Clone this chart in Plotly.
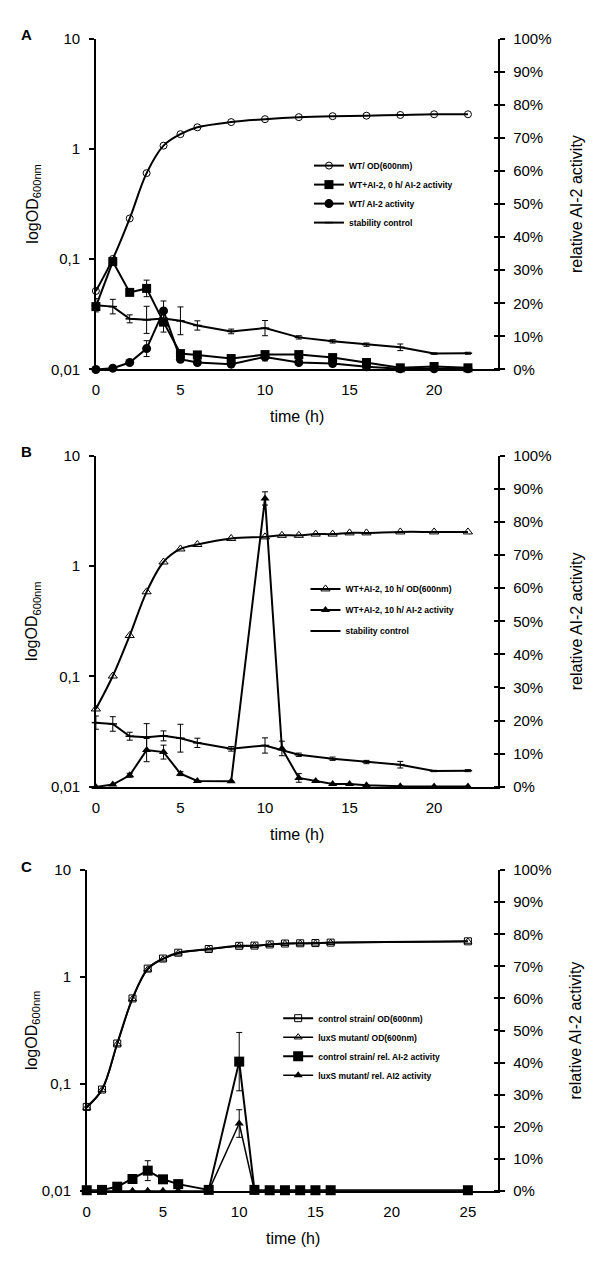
import plotly.graph_objects as go

# ---------------- data ----------------
# Panel A
time_a = [0, 1, 2, 3, 4, 5, 6, 8, 10, 12, 14, 16, 18, 20, 22]
wt_od_a = [0.0515, 0.1005, 0.234, 0.603, 1.07, 1.36, 1.57, 1.75, 1.86, 1.94, 1.98, 2.00, 2.03, 2.06, 2.06]
wt_ai2_0h_act = [19.0, 32.6, 23.3, 24.5, 14.3, 4.8, 4.4, 3.3, 4.5, 4.5, 3.6, 2.1, 0.5, 0.9, 0.5]
wt_ai2_0h_err = [0, 0, 0, 2.5, 3.0, 0, 0, 0, 0, 0, 0, 0, 0, 0, 0]
wt_act = [0.0, 0.4, 2.1, 6.3, 17.7, 3.1, 2.1, 1.6, 3.8, 2.1, 1.8, 0.8, 0.2, 0.2, 0.2]
wt_act_err = [0, 0, 0, 2.4, 3.0, 0, 0, 0, 1.2, 0, 0, 0, 0, 0, 0]
stab_time = [0, 1, 2, 3, 4, 5, 6, 8, 10, 12, 14, 16, 18, 20, 22]
stab_act = [19.4, 19.0, 15.3, 15.0, 15.4, 14.7, 13.3, 11.5, 12.5, 9.7, 8.5, 7.5, 6.7, 4.8, 4.9]
stab_err = [2.0, 2.2, 1.2, 4.1, 1.5, 4.2, 1.4, 0.7, 2.3, 0.5, 0.5, 0.5, 1.0, 0.2, 0.3]

# Panel B
time_b = [0, 1, 2, 3, 4, 5, 6, 8, 10, 11, 12, 13, 14, 15, 16, 18, 20, 22]
wt10_od = [0.0508, 0.101, 0.235, 0.585, 1.09, 1.43, 1.57, 1.78, 1.84, 1.90, 1.90, 1.95, 1.95, 2.00, 2.00, 2.04, 2.04, 2.04]
wt10_act = [0.0, 0.7, 3.5, 11.1, 10.5, 4.0, 1.8, 1.7, 87.1, 11.6, 2.7, 1.8, 0.9, 0.9, 0.5, 0.2, 0.1, 0.1]
wt10_err = [0, 0, 0.6, 3.5, 2.1, 0.6, 0, 0, 2.0, 2.2, 1.3, 0, 0, 0, 0, 0, 0, 0]

# Panel C
time_c = [0, 1, 2, 3, 4, 5, 6, 8, 10, 11, 12, 13, 14, 15, 16, 25]
ctrl_od = [0.061, 0.0887, 0.239, 0.631, 1.20, 1.49, 1.69, 1.83, 1.96, 1.97, 2.02, 2.06, 2.07, 2.08, 2.10, 2.16]
luxs_od = [0.060, 0.088, 0.236, 0.625, 1.18, 1.47, 1.67, 1.82, 1.95, 1.96, 2.01, 2.05, 2.06, 2.07, 2.09, 2.15]
ctrl_act = [0.2, 0.3, 1.3, 3.7, 6.3, 3.6, 2.1, 0.3, 40.3, 0.3, 0.2, 0.2, 0.2, 0.2, 0.2, 0.2]
ctrl_err = [0, 0, 0, 0, 3.1, 0, 0, 0, 9.1, 0, 0, 0, 0, 0, 0, 0]
luxs_act = [0, 0, 0, 0, 0, 0, 0, 0, 21.0, 0, 0, 0, 0, 0, 0, 0]
luxs_err = [0, 0, 0, 0, 0, 0, 0, 0, 4.3, 0, 0, 0, 0, 0, 0, 0]

log_tickvals = [0.01, 0.1, 1, 10]
log_ticktext = ["0,01", "0,1", "1", "10"]
pct_tickvals = list(range(0, 101, 10))
pct_ticktext = [f"{v}%" for v in pct_tickvals]

# ---------------- figure ----------------
W, H = 600, 1286
FONT = "Liberation Sans, Arial, sans-serif"
BLACK = "black"


def px(x):
    return x / W


def py(y):
    return 1 - y / H


fig = go.Figure()


def err(arr):
    return dict(type="data", array=arr, visible=True, color=BLACK, thickness=1, width=3)


LW = 2

# Panel A traces
fig.add_trace(go.Scatter(x=time_a, y=wt_od_a, xaxis="x", yaxis="y", name="WT/ OD(600nm)",
                         mode="lines+markers", line=dict(color=BLACK, width=LW, shape="spline"),
                         marker=dict(symbol="circle-open", size=7, color=BLACK, line=dict(width=1)),
                         legend="legend", cliponaxis=False))
fig.add_trace(go.Scatter(x=time_a, y=wt_ai2_0h_act, xaxis="x", yaxis="y2", name="WT+AI-2, 0 h/ AI-2 activity",
                         mode="lines+markers", line=dict(color=BLACK, width=LW),
                         marker=dict(symbol="square", size=9, color=BLACK),
                         error_y=err(wt_ai2_0h_err), legend="legend", cliponaxis=False))
fig.add_trace(go.Scatter(x=time_a, y=wt_act, xaxis="x", yaxis="y2", name="WT/ AI-2 activity",
                         mode="lines+markers", line=dict(color=BLACK, width=LW),
                         marker=dict(symbol="circle", size=9, color=BLACK),
                         error_y=err(wt_act_err), legend="legend", cliponaxis=False))
fig.add_trace(go.Scatter(x=stab_time, y=stab_act, xaxis="x", yaxis="y2", name="stability control",
                         mode="lines+markers", line=dict(color=BLACK, width=LW),
                         marker=dict(symbol="line-ew", size=6, color=BLACK, line=dict(width=1.5, color=BLACK)),
                         error_y=err(stab_err), legend="legend", cliponaxis=False))

# Panel B traces
fig.add_trace(go.Scatter(x=time_b, y=wt10_od, xaxis="x2", yaxis="y3", name="WT+AI-2, 10 h/ OD(600nm)",
                         mode="lines+markers", line=dict(color=BLACK, width=LW, shape="spline"),
                         marker=dict(symbol="triangle-up-open", size=8, color=BLACK, line=dict(width=1)),
                         legend="legend2", legendgroup="b1", cliponaxis=False))
fig.add_trace(go.Scatter(x=time_b, y=wt10_act, xaxis="x2", yaxis="y4", name="WT+AI-2, 10 h/ AI-2 activity",
                         mode="lines+markers", line=dict(color=BLACK, width=LW),
                         marker=dict(symbol="triangle-up", size=8, color=BLACK),
                         error_y=err(wt10_err), legend="legend2", legendgroup="b2", cliponaxis=False))
fig.add_trace(go.Scatter(x=stab_time, y=stab_act, xaxis="x2", yaxis="y4", name="stability control",
                         mode="lines+markers", line=dict(color=BLACK, width=LW),
                         marker=dict(symbol="line-ew", size=6, color=BLACK, line=dict(width=1.5, color=BLACK)),
                         error_y=err(stab_err), legend="legend2", legendgroup="b3", cliponaxis=False))

# Panel C traces
fig.add_trace(go.Scatter(x=time_c, y=ctrl_od, xaxis="x3", yaxis="y5", name="control strain/ OD(600nm)",
                         mode="lines+markers", line=dict(color=BLACK, width=LW, shape="spline"),
                         marker=dict(symbol="square-open", size=7, color=BLACK, line=dict(width=1)),
                         legend="legend3", cliponaxis=False))
fig.add_trace(go.Scatter(x=time_c, y=luxs_od, xaxis="x3", yaxis="y5", name="luxS mutant/ OD(600nm)",
                         mode="lines+markers", line=dict(color=BLACK, width=1.5, shape="spline"),
                         marker=dict(symbol="triangle-up-open", size=7, color=BLACK, line=dict(width=1)),
                         legend="legend3", cliponaxis=False))
fig.add_trace(go.Scatter(x=time_c, y=ctrl_act, xaxis="x3", yaxis="y6", name="control strain/ rel. AI-2 activity",
                         mode="lines+markers", line=dict(color=BLACK, width=LW),
                         marker=dict(symbol="square", size=10, color=BLACK),
                         error_y=err(ctrl_err), legend="legend3", cliponaxis=False))
fig.add_trace(go.Scatter(x=time_c, y=luxs_act, xaxis="x3", yaxis="y6", name="luxS mutant/ rel. AI2 activity",
                         mode="lines+markers", line=dict(color=BLACK, width=1.5),
                         marker=dict(symbol="triangle-up", size=8, color=BLACK),
                         error_y=err(luxs_err), legend="legend3", cliponaxis=False))

# ---------------- axes ----------------
xdom_ab = [px(92.5), px(497.7)]
xdom_c = [px(83.3), px(497.7)]
ydom_a = [py(365.3), py(30)]
ydom_b = [py(788.3), py(452.7)]
ydom_c = [py(1197.7), py(872.7)]

tickfont = dict(family=FONT, size=15, color=BLACK)


def xaxis(dom, rng, yanchor, tickvals):
    return dict(domain=dom, range=rng, anchor=yanchor, showgrid=False, zeroline=False,
                showline=True, linecolor=BLACK, linewidth=1.5, ticks="", ticklen=0,
                tickvals=tickvals, tickfont=tickfont, ticklabelstandoff=6)


def ylog(dom, xanchor):
    return dict(domain=dom, type="log", range=[-2, 1], anchor=xanchor, showgrid=False, zeroline=False,
                showline=True, linecolor=BLACK, linewidth=1.5, ticks="outside", ticklen=5,
                tickcolor=BLACK, tickwidth=1.5, tickvals=log_tickvals, ticktext=log_ticktext,
                tickfont=tickfont, ticklabelstandoff=6)


def ypct(overlay, xanchor):
    return dict(overlaying=overlay, side="right", anchor=xanchor, range=[0, 100], showgrid=False,
                zeroline=False, showline=True, linecolor=BLACK, linewidth=1.5, ticks="outside",
                ticklen=5, tickcolor=BLACK, tickwidth=1.5, tickvals=pct_tickvals, ticktext=pct_ticktext,
                tickfont=tickfont, ticklabelstandoff=5,
                minor=dict(tickmode="array", tickvals=[v + 0.01 for v in pct_tickvals], ticks="inside",
                           ticklen=5, tickcolor=BLACK, tickwidth=1.5, showgrid=False))


legfont = dict(family=FONT, size=8.5, color=BLACK, weight="bold")


def legend(x, ytop, gap=None):
    d = dict(x=px(x), y=py(ytop), xanchor="left", yanchor="top", xref="paper", yref="paper",
             bgcolor="rgba(0,0,0,0)", borderwidth=0, font=legfont, itemwidth=30, traceorder="normal")
    if gap is not None:
        d["tracegroupgap"] = gap
        d["traceorder"] = "grouped"
    return d


annotations = []


def ann(text, x, y, size=16, angle=0, bold=False):
    annotations.append(dict(text=f"<b>{text}</b>" if bold else text, x=px(x), y=py(y),
                            xref="paper", yref="paper", showarrow=False, textangle=angle,
                            xanchor="center", yanchor="middle",
                            font=dict(family=FONT, size=size, color=BLACK)))


for lab, yy in [("A", 26), ("B", 448.3), ("C", 869.3)]:
    ann(lab, 23, yy, size=15, bold=True)

for (ytop, ybot, xl, xr) in [(30, 365.3, 92.5, 497.7), (452.7, 788.3, 92.5, 497.7), (872.7, 1197.7, 83.3, 497.7)]:
    yc = (ytop + ybot) / 2
    ann("logOD<sub>600nm</sub>", 28.8, yc, angle=-90)
    ann("relative AI-2 activity", 575.8, yc, angle=-90)
    ann("time (h)", (xl + xr) / 2, ybot + 48)

fig.update_layout(
    width=W, height=H, autosize=False,
    margin=dict(l=0, r=0, t=0, b=0),
    paper_bgcolor="white", plot_bgcolor="white",
    font=dict(family=FONT, color=BLACK),
    xaxis=xaxis(xdom_ab, [0, 23.8], "y", [0, 5, 10, 15, 20]),
    yaxis=ylog(ydom_a, "x"),
    yaxis2=ypct("y", "x"),
    xaxis2=xaxis(xdom_ab, [0, 23.8], "y3", [0, 5, 10, 15, 20]),
    yaxis3=ylog(ydom_b, "x2"),
    yaxis4=ypct("y3", "x2"),
    xaxis3=xaxis(xdom_c, [0, 27], "y5", [0, 5, 10, 15, 20, 25]),
    yaxis5=ylog(ydom_c, "x3"),
    yaxis6=ypct("y5", "x3"),
    legend=legend(307, 144),
    legend2=legend(303.5, 573, gap=2),
    legend3=legend(276, 1008),
    showlegend=True,
    annotations=annotations,
)

fig.write_html("out.html", config={"displayModeBar": False},
               post_script="document.body.style.margin='0px';")
